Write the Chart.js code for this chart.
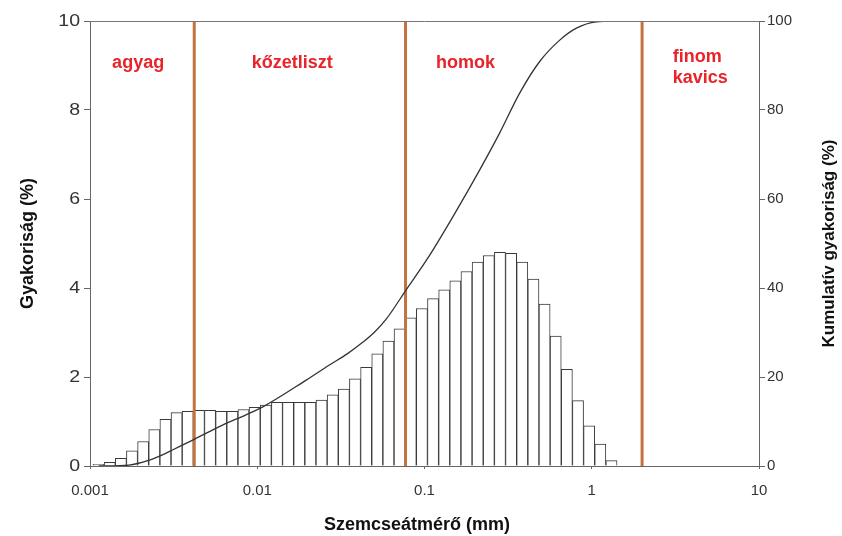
<!DOCTYPE html>
<html>
<head>
<meta charset="utf-8">
<title>Szemcseeloszlás</title>
<script src="https://cdn.jsdelivr.net/npm/chart.js@4.4.1/dist/chart.umd.min.js"></script>
<style>
  body { margin: 0; background: #fff; }
  #wrap { width: 842px; height: 536px; }
</style>
</head>
<body>
<div id="wrap"><canvas id="grain"></canvas></div>
<script>
// bin centres in mm (15 bins per decade) and the share of each bin in %
var binCentres = [
  0.001125, 0.001312, 0.001529, 0.001783, 0.002079, 0.002424, 0.002826, 0.003295,
  0.003841, 0.004479, 0.005222, 0.006088, 0.007098, 0.008276, 0.009649,
  0.01125, 0.01312, 0.01529, 0.01783, 0.02079, 0.02424, 0.02826, 0.03295,
  0.03841, 0.04479, 0.05222, 0.06088, 0.07098, 0.08276, 0.09649,
  0.1125, 0.1312, 0.1529, 0.1783, 0.2079, 0.2424, 0.2826, 0.3295,
  0.3841, 0.4479, 0.5222, 0.6088, 0.7098, 0.8276, 0.9649,
  1.125, 1.312
];
var frequency = [
  0.04, 0.08, 0.17, 0.34, 0.55, 0.82, 1.05, 1.20,
  1.23, 1.25, 1.25, 1.23, 1.23, 1.27, 1.32, 1.37,
  1.43, 1.43, 1.43, 1.43, 1.48, 1.60, 1.73, 1.96,
  2.22, 2.52, 2.81, 3.08, 3.33, 3.54, 3.76, 3.96,
  4.16, 4.37, 4.58, 4.73, 4.80, 4.78, 4.58, 4.20,
  3.64, 2.92, 2.17, 1.47, 0.90, 0.49, 0.12
];

// cumulative curve (mm, %)
var curveSize = [0.00113, 0.00171, 0.00226, 0.00271, 0.00311, 0.0042, 0.0062, 0.00856,
  0.0108, 0.0196, 0.027, 0.0345, 0.0427, 0.05, 0.059, 0.0777, 0.1046, 0.1477,
  0.2135, 0.2812, 0.3707, 0.4883, 0.6434, 0.8095, 1.067, 1.47];
var cumulative = [0, 0.2, 1.3, 2.5, 3.6, 6.0, 9.2, 11.5,
  13.3, 19.3, 22.7, 25.2, 27.8, 30.0, 33.0, 39.6, 46.7, 56.0,
  66.5, 74.8, 83.8, 90.9, 95.7, 98.4, 99.8, 100];

// class limits (mm)
var boundaries = [0.0042, 0.077, 2];
var zoneNames = ['agyag', 'kőzetliszt', 'homok', ['finom', 'kavics']];

var xTicks = [0.001, 0.01, 0.1, 1, 10];
var xTickLabels = ['0.001', '0.01', '0.1', '1', '10'];
var yTicks = [0, 2, 4, 6, 8, 10];
var y2Ticks = [0, 20, 40, 60, 80, 100];

var SANS = "'Liberation Sans', Arial, Helvetica, sans-serif";

// where the zone names sit, in axis units (mm, %)
var zoneAnchors = [
  { x: 0.00194, y: 9.06, align: 'center' },
  { x: 0.0162, y: 9.06, align: 'center' },
  { x: 0.176, y: 9.06, align: 'center' },
  { x: 3.05, y: 9.19, align: 'left' }
];

var bars = binCentres.map(function (x, i) { return { x: x, y: frequency[i] }; });
var curve = curveSize.map(function (x, i) { return { x: x, y: cumulative[i] }; });

var limitSets = boundaries.map(function (b) {
  return {
    type: 'line',
    data: [{ x: b, y: 0 }, { x: b, y: 10 }],
    borderColor: '#c47240',
    borderWidth: 3,
    pointRadius: 0,
    yAxisID: 'y',
    order: 2
  };
});

// text stretched sideways by sx
function stretchedText(ctx, text, x, y, sx) {
  ctx.save();
  ctx.translate(x, y);
  ctx.scale(sx, 1);
  ctx.fillText(text, 0, 0);
  ctx.restore();
}

var decorations = {
  id: 'decorations',
  afterDatasetsDraw: function (chart) {
    var ctx = chart.ctx, area = chart.chartArea;
    var xs = chart.scales.x, ys = chart.scales.y, ys2 = chart.scales.y2;
    ctx.save();

    // top edge of the frame
    ctx.strokeStyle = '#777';
    ctx.lineWidth = 1;
    ctx.beginPath();
    ctx.moveTo(area.left, area.top + 0.5);
    ctx.lineTo(area.right, area.top + 0.5);
    ctx.stroke();

    // tick labels
    ctx.fillStyle = '#333';
    ctx.textBaseline = 'middle';
    ctx.font = '17px ' + SANS;
    ctx.textAlign = 'right';
    yTicks.forEach(function (v) {
      stretchedText(ctx, String(v), area.left - 10, ys.getPixelForValue(v), 1.15);
    });
    ctx.font = '15px ' + SANS;
    ctx.textAlign = 'left';
    y2Ticks.forEach(function (v) {
      ctx.fillText(String(v), area.right + 8, ys2.getPixelForValue(v));
    });
    ctx.font = '15px ' + SANS;
    ctx.textAlign = 'center';
    xTicks.forEach(function (v, i) {
      ctx.fillText(xTickLabels[i], xs.getPixelForValue(v), area.bottom + 25);
    });

    // zone names
    ctx.fillStyle = '#e8232a';
    ctx.font = 'bold 18px ' + SANS;
    zoneNames.forEach(function (name, i) {
      var a = zoneAnchors[i];
      ctx.textAlign = a.align;
      [].concat(name).forEach(function (t, j) {
        ctx.fillText(t, xs.getPixelForValue(a.x), ys.getPixelForValue(a.y) + j * 21);
      });
    });

    // axis titles
    ctx.fillStyle = '#111';
    ctx.textAlign = 'center';
    ctx.font = 'bold 18px ' + SANS;
    ctx.fillText('Szemcseátmérő (mm)', 417, 525);

    ctx.save();
    ctx.translate(28, (area.top + area.bottom) / 2);
    ctx.rotate(-Math.PI / 2);
    ctx.fillText('Gyakoriság (%)', 0, 0);
    ctx.restore();

    ctx.save();
    ctx.translate(829, (area.top + area.bottom) / 2);
    ctx.rotate(-Math.PI / 2);
    ctx.font = 'bold 17px ' + SANS;
    ctx.fillText('Kumulatív gyakoriság (%)', 0, 0);
    ctx.restore();

    ctx.restore();
  }
};

new Chart(document.getElementById('grain'), {
  type: 'bar',
  data: {
    datasets: [
      {
        type: 'line',
        data: curve,
        borderColor: '#333',
        borderWidth: 1.3,
        pointRadius: 0,
        cubicInterpolationMode: 'monotone',
        yAxisID: 'y2',
        order: 1
      }
    ].concat(limitSets).concat([
      {
        type: 'bar',
        data: bars,
        backgroundColor: '#fff',
        borderColor: '#3a3a3a',
        borderWidth: 1,
        categoryPercentage: 1,
        barPercentage: 1,
        yAxisID: 'y',
        order: 3
      }
    ])
  },
  options: {
    responsive: true,
    maintainAspectRatio: false,
    animation: false,
    layout: { padding: { top: 21, left: 0, right: 0, bottom: 0 } },
    plugins: { legend: { display: false }, tooltip: { enabled: false } },
    scales: {
      x: {
        type: 'logarithmic',
        min: 0.001,
        max: 10,
        offset: false,
        afterBuildTicks: function (s) { s.ticks = xTicks.map(function (v) { return { value: v }; }); },
        afterFit: function (s) { s.height = 70; },
        ticks: { display: false },
        grid: { offset: false, drawOnChartArea: false, drawTicks: true, tickLength: 3, color: '#666' },
        border: { display: true, color: '#666' }
      },
      y: {
        position: 'left',
        min: 0,
        max: 10,
        afterFit: function (s) { s.width = 90; },
        ticks: { display: false, stepSize: 2 },
        grid: { drawOnChartArea: false, drawTicks: true, tickLength: 6, color: '#666' },
        border: { display: true, color: '#666' }
      },
      y2: {
        position: 'right',
        min: 0,
        max: 100,
        afterFit: function (s) { s.width = 83; },
        ticks: { display: false, stepSize: 20 },
        grid: { drawOnChartArea: false, drawTicks: true, tickLength: 6, color: '#666' },
        border: { display: true, color: '#666' }
      }
    }
  },
  plugins: [decorations]
});
</script>
</body>
</html>
